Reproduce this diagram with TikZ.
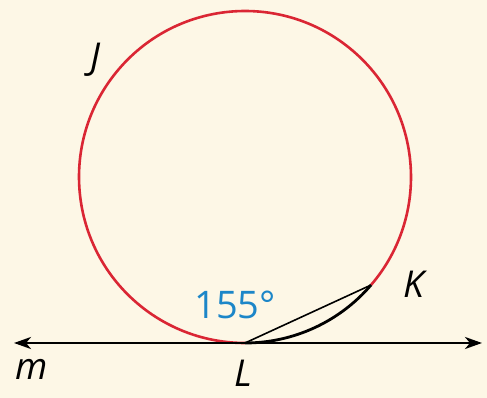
\documentclass[tikz,border=0pt]{standalone}
\usepackage{fontspec}
\setmainfont{Open Sans}
\usepackage{xcolor}
\usepackage{tikz}
\usetikzlibrary{arrows.meta,positioning,calc}
\definecolor{paperbg}{RGB}{253,247,230}
\definecolor{circred}{RGB}{218,38,52}
\definecolor{arcblue}{RGB}{28,134,200}

\begin{document}
\begin{tikzpicture}[
        x=1pt,y=1pt,
        lbl/.style={inner sep=0pt,font=\fontsize{37}{40}\selectfont\itshape},
        tang/.style={line width=2.6pt,{Stealth[length=17pt,width=12pt,inset=5pt]}-{Stealth[length=17pt,width=12pt,inset=5pt]}}
      ]
        \fill[paperbg] (0,0) rectangle (487,398);
        \useasboundingbox (0,0) rectangle (487,398);
        \coordinate (O) at (245,221);
        \coordinate (L) at (245,55);
        \coordinate (K) at ($(O)+(-40.6:166)$);
        \coordinate (mleft) at (14,55);
        \coordinate (mright) at (482,55);
        % circle and the arc LK
        \draw[circred,line width=2.6pt] (K) arc[start angle=-40.6,end angle=270,radius=166];
        \draw[line width=2.8pt] (L) arc[start angle=-90,end angle=-40.6,radius=166];
        \draw[line width=1.6pt] (L)--(K);
        \draw[tang] (mleft)--(mright);
        % labels
        \node[lbl] (labJ) at (95,338) {J};
        \node[lbl] (labK) at (414,114) {K};
        \node[lbl] (labL) at (243,25) {L};
        \node[lbl] (labm) at (32,29) {m};
        \node[inner sep=0pt,text=arcblue,font=\fontsize{38}{40}\selectfont] (ang) at (235,93) {155°};
      \end{tikzpicture}
\end{document}
